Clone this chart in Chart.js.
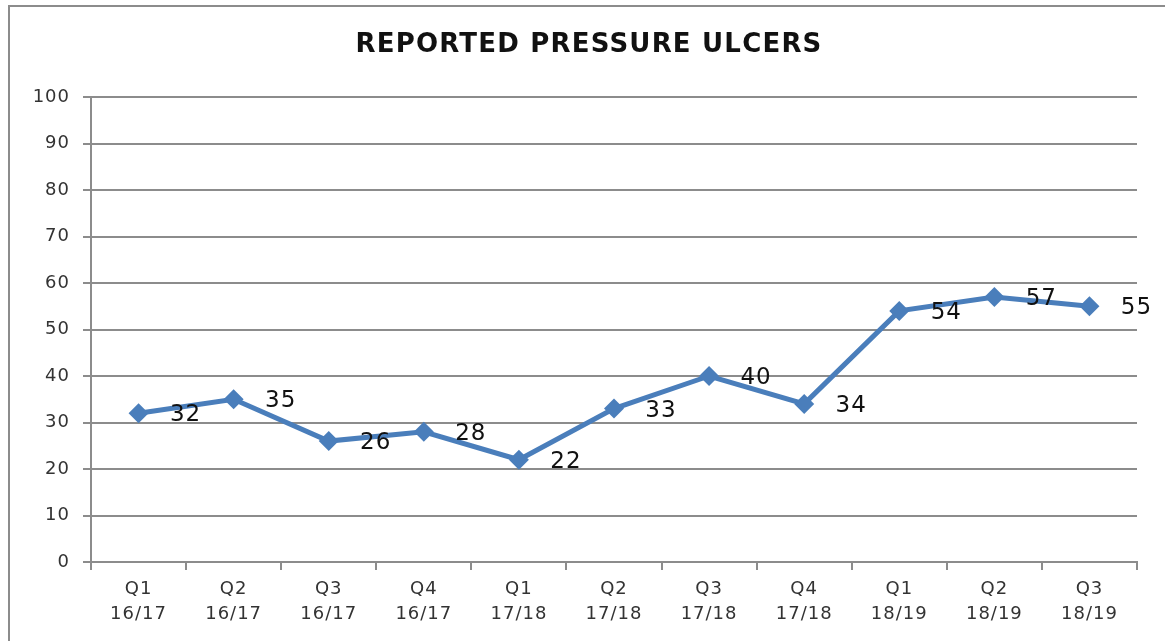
<!DOCTYPE html>
<html>
<head>
<meta charset="utf-8">
<script src="https://cdn.jsdelivr.net/npm/chart.js@4.4.1/dist/chart.umd.min.js"></script>
<style>
  html, body { margin: 0; padding: 0; background: #fff; }
  #wrap { width: 1165px; height: 641px; }
</style>
</head>
<body>
<div id="wrap"><canvas id="ulcerChart"></canvas></div>
<script>
  // quarters (two-line labels)
  const quarters = [
    ['Q1', '16/17'], ['Q2', '16/17'], ['Q3', '16/17'], ['Q4', '16/17'],
    ['Q1', '17/18'], ['Q2', '17/18'], ['Q3', '17/18'], ['Q4', '17/18'],
    ['Q1', '18/19'], ['Q2', '18/19'], ['Q3', '18/19']
  ];
  const ulcerCounts = [32, 35, 26, 28, 22, 33, 40, 34, 54, 57, 55];
  const yTicks = [0, 10, 20, 30, 40, 50, 60, 70, 80, 90, 100];
  const chartTitle = 'REPORTED PRESSURE ULCERS';

  const FONT = "'DejaVu Sans', Verdana, sans-serif";

  // Frame (only top and left edges fall inside the picture) + wider text
  const framePlugin = {
    id: 'frame',
    beforeDraw(chart) {
      const c = chart.ctx;
      c.save();
      c.strokeStyle = '#8c8c8c';
      c.lineWidth = 2;
      c.beginPath();
      c.moveTo(9, chart.height + 5);
      c.lineTo(9, 6);
      c.lineTo(chart.width + 5, 6);
      c.stroke();
      c.restore();
      c.letterSpacing = '1px';
    }
  };

  // Title, drawn with a bit of letter spacing like the original
  const titlePlugin = {
    id: 'wideTitle',
    afterDraw(chart) {
      const c = chart.ctx;
      c.save();
      c.letterSpacing = '1.2px';
      c.font = 'bold 26px ' + FONT;
      c.fillStyle = '#111';
      c.textAlign = 'center';
      c.textBaseline = 'middle';
      c.fillText(chartTitle, 589, 45);
      c.restore();
    }
  };

  // Value labels to the right of each point
  const valueLabels = {
    id: 'valueLabels',
    afterDatasetsDraw(chart) {
      const c = chart.ctx;
      const meta = chart.getDatasetMeta(0);
      c.save();
      c.letterSpacing = '1px';
      c.font = '23px ' + FONT;
      c.fillStyle = '#111';
      c.textAlign = 'center';
      c.textBaseline = 'middle';
      meta.data.forEach((pt, i) => {
        c.fillText(String(ulcerCounts[i]), pt.x + 47, pt.y + 2);
      });
      c.restore();
    }
  };

  const ctx = document.getElementById('ulcerChart').getContext('2d');
  new Chart(ctx, {
    type: 'line',
    data: {
      labels: quarters,
      datasets: [{
        label: 'Reported pressure ulcers',
        data: ulcerCounts,
        borderColor: '#4A7EBB',
        backgroundColor: '#4A7EBB',
        borderWidth: 5,
        tension: 0,
        pointStyle: 'rectRot',
        pointRadius: 10,
        pointBorderWidth: 0
      }]
    },
    options: {
      responsive: true,
      maintainAspectRatio: false,
      animation: false,
      layout: { padding: { left: 0, right: 28, top: 97, bottom: 0 } },
      plugins: {
        legend: { display: false },
        tooltip: { enabled: false },
        title: { display: false }
      },
      scales: {
        x: {
          offset: true,
          grid: {
            offset: true,
            drawOnChartArea: false,
            drawTicks: true,
            tickLength: 8,
            color: '#8c8c8c',
            lineWidth: 2
          },
          border: { color: '#8c8c8c', width: 2 },
          ticks: {
            color: '#333',
            font: { family: FONT, size: 18, lineHeight: 1.4 },
            padding: 7,
            maxRotation: 0,
            autoSkip: false
          },
          afterFit(scale) { scale.height = 79; }
        },
        y: {
          min: 0,
          max: 100,
          afterBuildTicks(scale) { scale.ticks = yTicks.map(v => ({ value: v })); },
          grid: {
            color: '#8c8c8c',
            lineWidth: 2,
            tickLength: 8
          },
          border: { color: '#8c8c8c', width: 2 },
          ticks: {
            color: '#333',
            font: { family: FONT, size: 18 },
            padding: 13
          },
          afterFit(scale) { scale.width = 91; }
        }
      }
    },
    plugins: [framePlugin, titlePlugin, valueLabels]
  });
</script>
</body>
</html>
